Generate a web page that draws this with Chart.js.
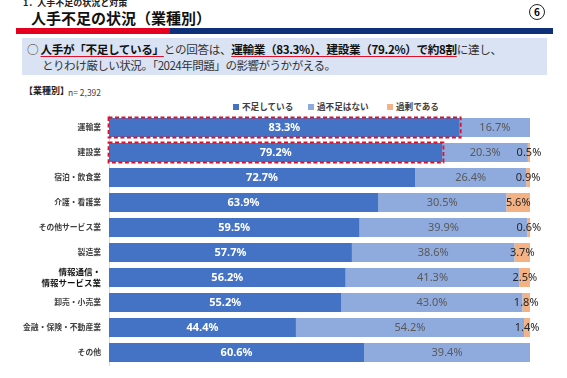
<!DOCTYPE html>
<html lang="ja">
<head>
<meta charset="utf-8">
<script src="https://cdn.jsdelivr.net/npm/chart.js@4.4.1/dist/chart.umd.min.js"></script>
<style>
  html, body { margin:0; padding:0; background:#fff; width:567px; height:378px; overflow:hidden; }
  body { position:relative; font-family:"Noto Sans CJK JP","Noto Sans",sans-serif; color:#000; }
  #c { position:absolute; left:0; top:0; }
  .abs { position:absolute; white-space:nowrap; }
  #sub { left:23px; top:-4px; font-size:9px; font-weight:bold; color:#222; }
  #title { left:31px; top:7px; font-size:15px; font-weight:bold; color:#111; }
  #num { left:529px; top:4px; width:14px; height:14px; border:1.3px solid #222; border-radius:50%; font-size:10px; font-weight:bold; text-align:center; line-height:14px; }
  #red { left:16px; top:28px; width:154px; height:6px; background:#e60020; }
  #blue { left:170px; top:28px; width:383px; height:6px; background:#0d3079; }
  #box { left:22px; top:38px; width:525px; height:37px; background:#dae3f3; }
  #l1 { left:27px; top:41px; font-size:11.6px; color:#333; letter-spacing:-0.35px; }
  #l2 { left:42px; top:57px; font-size:11.6px; color:#333; letter-spacing:-0.55px; }
  .u { text-decoration:underline; text-decoration-color:#e0102a; text-underline-offset:2px; font-weight:bold; color:#111; }
  #seg { left:24px; top:84px; font-size:9px; font-weight:bold; color:#222; }
  #n { left:68px; top:86px; font-size:8.5px; color:#444; }
  .lg { top:100px; font-size:8.6px; font-weight:bold; color:#404040; }
  .sq { display:inline-block; width:6px; height:6px; margin-right:3px; vertical-align:0px; }
</style>
</head>
<body>
<div class="abs" id="sub">1．人手不足の状況と対策</div>
<div class="abs" id="title">人手不足の状況（業種別）</div>
<div class="abs" id="num">6</div>
<div class="abs" id="red"></div>
<div class="abs" id="blue"></div>
<div class="abs" id="box"></div>
<div class="abs" id="l1">○ <span class="u">人手が「不足している」</span>との回答は、<span class="u">運輸業（83.3%）、建設業（79.2%）で約8割</span>に達し、</div>
<div class="abs" id="l2">とりわけ厳しい状況。「2024年問題」の影響がうかがえる。</div>
<div class="abs" id="seg">【業種別】</div>
<div class="abs" id="n">n= 2,392</div>
<div id="legend"></div>
<canvas id="c" width="567" height="378"></canvas>
<script>
const categories = [
  "運輸業", "建設業", "宿泊・飲食業", "介護・看護業", "その他サービス業",
  "製造業", ["情報通信・", "情報サービス業"], "卸売・小売業", "金融・保険・不動産業", "その他"
];
const seriesNames = ["不足している", "過不足はない", "過剰である"];
const shortage = [83.3, 79.2, 72.7, 63.9, 59.5, 57.7, 56.2, 55.2, 44.4, 60.6];
const adequate = [16.7, 20.3, 26.4, 30.5, 39.9, 38.6, 41.3, 43.0, 54.2, 39.4];
const excess   = [0,    0.5,  0.9,  5.6,  0.6,  3.7,  2.5,  1.8,  1.4,  0];
const highlighted = [0, 1];

const colors = ["#4472c4", "#8faadc", "#f4b183"];
const legendX = [233, 308, 387];

// HTML legend from series names
const lg = document.getElementById('legend');
seriesNames.forEach((name, i) => {
  const d = document.createElement('div');
  d.className = 'abs lg';
  d.style.left = legendX[i] + 'px';
  d.innerHTML = '<span class="sq" style="background:' + colors[i] + '"></span>' + name;
  lg.appendChild(d);
});

const labelPlugin = {
  id: 'labels',
  afterDatasetsDraw(chart) {
    const ctx = chart.ctx;
    ctx.save();
    ctx.textAlign = 'center';
    ctx.textBaseline = 'middle';
    chart.data.datasets.forEach((ds, di) => {
      const meta = chart.getDatasetMeta(di);
      meta.data.forEach((el, i) => {
        const v = ds.data[i];
        if (!v) return;
        const cx = (el.x + el.base) / 2;
        if (di === 0) { ctx.fillStyle = '#ffffff'; ctx.font = 'bold 11px "Noto Sans","DejaVu Sans",sans-serif'; }
        else if (di === 1) { ctx.fillStyle = '#595959'; ctx.font = '11px "Noto Sans","DejaVu Sans",sans-serif'; }
        else { ctx.fillStyle = '#262626'; ctx.font = '11px "Noto Sans","DejaVu Sans",sans-serif'; }
        ctx.fillText(v.toFixed(1) + '%', cx, el.y + 0.5);
      });
    });
    // dashed highlight boxes
    const m0 = chart.getDatasetMeta(0);
    ctx.strokeStyle = '#e0102a';
    ctx.lineWidth = 1.8;
    ctx.setLineDash([4, 2.5]);
    highlighted.forEach(i => {
      const el = m0.data[i];
      const h = el.height;
      ctx.strokeRect(el.base - 0.5, el.y - h / 2 - 0.5, el.x - el.base + 1.5, h + 1);
    });
    ctx.restore();
  }
};

new Chart(document.getElementById('c'), {
  type: 'bar',
  data: {
    labels: categories,
    datasets: [
      { label: seriesNames[0], data: shortage, backgroundColor: colors[0] },
      { label: seriesNames[1], data: adequate, backgroundColor: colors[1] },
      { label: seriesNames[2], data: excess, backgroundColor: colors[2] }
    ]
  },
  options: {
    indexAxis: 'y',
    responsive: false,
    animation: false,
    devicePixelRatio: 1,
    layout: { padding: { left: 0, right: 37, top: 115, bottom: 13 } },
    datasets: { bar: { barPercentage: 0.76, categoryPercentage: 1, borderWidth: 0 } },
    plugins: { legend: { display: false }, tooltip: { enabled: false } },
    scales: {
      x: { stacked: true, min: 0, max: 100, display: false },
      y: {
        stacked: true,
        grid: { display: false, drawTicks: false },
        border: { display: true, color: '#d9d9d9', width: 1 },
        ticks: {
          padding: 8,
          color: (c) => c.index === 6 ? '#111' : '#404040',
          font: (c) => ({ family: '"Noto Sans CJK JP"', size: c.index === 6 ? 8.5 : 7.8, weight: 'bold', lineHeight: 1.25 })
        },
        afterFit(scale) { scale.width = 109; }
      }
    }
  },
  plugins: [labelPlugin]
});
</script>
</body>
</html>
